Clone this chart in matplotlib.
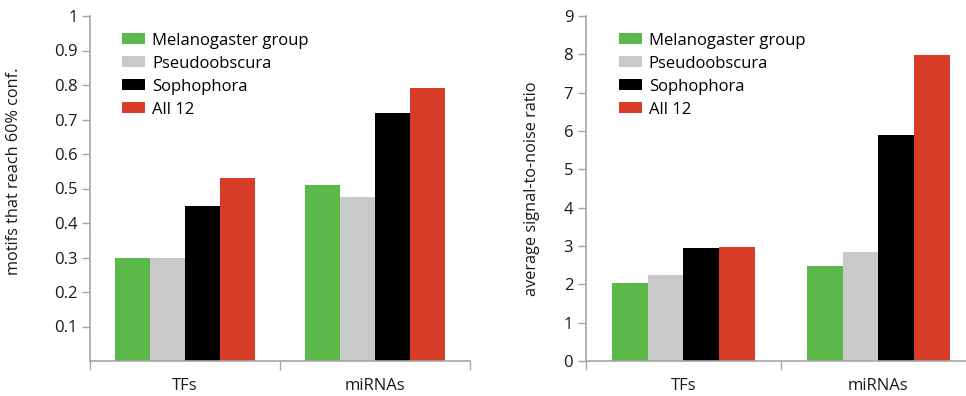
import matplotlib
matplotlib.use("Agg")
import matplotlib.pyplot as plt
import numpy as np
from matplotlib.patches import Patch

plt.rcParams['font.family'] = ['Open Sans', 'DejaVu Sans']

categories = ["TFs", "miRNAs"]
series = ["Melanogaster group", "Pseudoobscura", "Sophophora", "All 12"]
colors = ["#5BB94A", "#C9C9C9", "#000000", "#D63C27"]

motifs_conf = {
    "Melanogaster group": [0.298, 0.510],
    "Pseudoobscura": [0.298, 0.475],
    "Sophophora": [0.449, 0.718],
    "All 12": [0.529, 0.791],
}
snr = {
    "Melanogaster group": [2.03, 2.48],
    "Pseudoobscura": [2.24, 2.84],
    "Sophophora": [2.945, 5.89],
    "All 12": [2.97, 7.98],
}

left_ticks = [0.1, 0.2, 0.3, 0.4, 0.5, 0.6, 0.7, 0.8, 0.9, 1]
left_ticklabels = ["0.1", "0.2", "0.3", "0.4", "0.5", "0.6", "0.7", "0.8", "0.9", "1"]
right_ticks = [0, 1, 2, 3, 4, 5, 6, 7, 8, 9]
right_ticklabels = [str(t) for t in right_ticks]

W, H = 966, 396
fig = plt.figure(figsize=(W / 100, H / 100), dpi=100)

axcol = "#A6A6A6"
txtcol = "#1a1a1a"


def draw(ax, data, ymax, ticks, ticklabels, ylabel):
    x = np.arange(len(categories))
    w = 0.183
    for i, s in enumerate(series):
        ax.bar(x + (i - 1.5) * w, data[s], width=w, color=colors[i], edgecolor='none')
    ax.set_xlim(-0.5, len(categories) - 0.5)
    ax.set_ylim(0, ymax)
    ax.set_yticks(ticks)
    ax.set_yticklabels(ticklabels)
    ax.set_xticks(x)
    ax.set_xticklabels(categories)
    ax.set_xticks(np.arange(len(categories) + 1) - 0.5, minor=True)
    ax.tick_params(axis='x', which='major', length=0, pad=12, labelsize=12, labelcolor=txtcol)
    ax.tick_params(axis='x', which='minor', length=6.5, width=1, color=axcol, direction='out')
    ax.tick_params(axis='y', length=6, width=1, color=axcol, labelsize=12, labelcolor=txtcol, pad=3)
    for sp in ['top', 'right']:
        ax.spines[sp].set_visible(False)
    for sp in ['left', 'bottom']:
        ax.spines[sp].set_color(axcol)
        ax.spines[sp].set_linewidth(1.2)
    ax.set_ylabel(ylabel, fontsize=11.7, color=txtcol)
    handles = [Patch(facecolor=c, edgecolor='none') for c in colors]
    ax.legend(handles, series, loc='upper left', bbox_to_anchor=(0.085, 0.952),
              frameon=False, fontsize=12, handlelength=1.38, handleheight=0.66,
              handletextpad=0.42, labelspacing=0.42, borderpad=0, borderaxespad=0)


b = (H - 361) / H
h = (361 - 16) / H
ax1 = fig.add_axes([90 / W, b, 380 / W, h])
draw(ax1, motifs_conf, 1.0, left_ticks, left_ticklabels, "motifs that reach 60% conf.")
ax1.yaxis.set_label_coords(-0.178, 0.551)

ax2 = fig.add_axes([585.7 / W, b, 390 / W, h])
draw(ax2, snr, 9.0, right_ticks, right_ticklabels, "average signal-to-noise ratio")
ax2.yaxis.set_label_coords(-0.116, 0.5)

fig.savefig("out.png", dpi=100)
